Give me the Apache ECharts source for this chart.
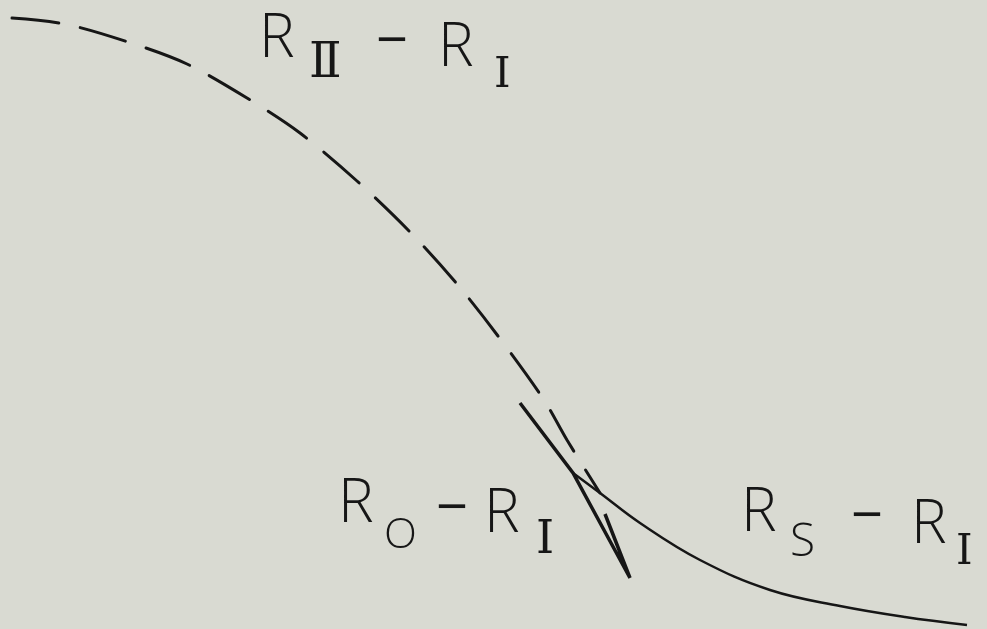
<!DOCTYPE html>
<html>
<head>
<meta charset="utf-8">
<title>R curves</title>
<script src="https://cdn.jsdelivr.net/npm/echarts@6/dist/echarts.min.js"></script>
<style>
  html, body { margin: 0; padding: 0; background: #d9dad2; }
  #chart { width: 987px; height: 629px; }
</style>
</head>
<body>
<div id="chart"></div>
<script>
const curveRII = [
  [12, 18], [65, 24], [128, 42], [187, 64], [247, 98], [300, 133],
  [357, 181], [411, 233], [457, 284], [498, 336], [544, 400],
  [567, 440], [600, 493]
];
const curveRS = [
  [573, 473], [600, 493], [640, 523], [700, 560], [770, 590],
  [840, 606], [905, 617], [967, 625]
];
const curveRO = [
  [520, 403], [573, 473], [630, 578], [605, 514]
];

const ink = '#161616';

// one label = main letter, subscript, dash, letter, subscript
function piece(text, x, y, size, family, weight) {
  return {
    type: 'text',
    style: {
      text: text,
      x: x,
      y: y,
      fill: ink,
      font: 'normal ' + (weight || 300) + ' ' + size + 'px ' + family,
      align: 'left',
      verticalAlign: 'middle'
    }
  };
}
const sans = '"Open Sans", "Liberation Sans", sans-serif';
const serif = '"DejaVu Serif", serif';

const labels = [
  // R_II - R_I
  piece('R', 259, 40, 60, sans),
  piece('Ⅱ', 309, 65, 48, serif, 400),
  piece('−', 376, 43, 56, sans, 400),
  piece('R', 438, 49, 60, sans),
  piece('I', 494, 76, 42, serif, 400),
  // R_O - R_I
  piece('R', 338, 505, 60, sans),
  piece('O', 384, 536, 43, sans),
  piece('−', 436, 510, 56, sans, 400),
  piece('R', 484, 515, 60, sans),
  piece('I', 536, 541, 46, serif, 400),
  // R_S - R_I
  piece('R', 741, 514, 60, sans),
  piece('S', 790, 543, 46, sans),
  piece('−', 851, 518, 56, sans, 400),
  piece('R', 911, 526, 60, sans),
  piece('I', 956, 553, 42, serif, 400)
];

const option = {
  backgroundColor: '#d9dad2',
  animation: false,
  grid: { left: 0, right: 0, top: 0, bottom: 0 },
  xAxis: { type: 'value', min: 0, max: 987, show: false },
  yAxis: { type: 'value', min: 0, max: 629, inverse: true, show: false },
  series: [
    {
      name: 'R_II - R_I',
      type: 'line',
      data: curveRII,
      smooth: 0.3,
      symbol: 'none',
      lineStyle: { color: ink, width: 3, type: [47, 22], cap: 'round' }
    },
    {
      name: 'R_S - R_I',
      type: 'line',
      data: curveRS,
      smooth: 0.4,
      symbol: 'none',
      lineStyle: { color: ink, width: 2.5 }
    },
    {
      name: 'R_O - R_I',
      type: 'line',
      data: curveRO,
      symbol: 'none',
      lineStyle: { color: ink, width: 3.5, join: 'miter' }
    }
  ],
  graphic: labels
};

const myChart = echarts.init(document.getElementById('chart'));
myChart.setOption(option);
</script>
</body>
</html>
